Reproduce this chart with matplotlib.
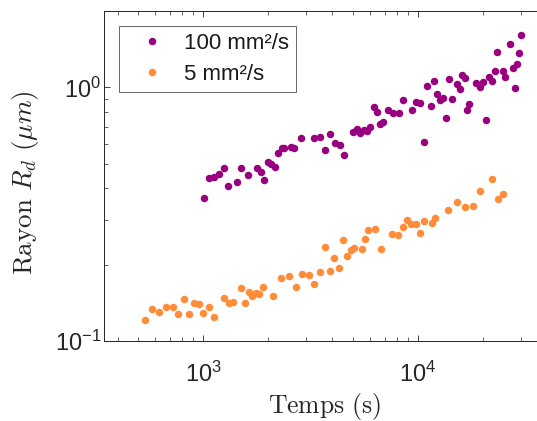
import matplotlib
matplotlib.use('Agg')
import matplotlib.pyplot as plt
import matplotlib.ticker as mticker

plt.rcParams['font.family'] = ['Liberation Sans', 'DejaVu Sans']

# temps (s) et rayon (um), 100 mm2/s
t_100 = [1010, 1070, 1130, 1190, 1250, 1310, 1435, 1500, 1625, 1780,
         1860, 1930, 2005, 2080, 2160, 2240, 2320, 2390, 2560, 2650,
         2860, 3265, 3485, 3700, 3905, 4110, 4320, 4530, 4960, 5190,
         5390, 5600, 5810, 6010, 6240, 6450, 6660, 6850, 7280, 7690,
         8130, 8540, 9350, 9770, 10200, 10630, 11050, 11460, 11870, 12300,
         12700, 13110, 13540, 13980, 14390, 15180, 15630, 16020, 16490, 16900,
         17320, 18610, 19360, 20060, 20650, 21390, 22090, 22760, 23380, 24770,
         25470, 26790, 27570, 28180, 28880, 29570, 30200]
r_100 = [0.365, 0.439, 0.445, 0.454, 0.481, 0.407, 0.423, 0.482, 0.451, 0.482,
         0.465, 0.433, 0.510, 0.498, 0.485, 0.551, 0.577, 0.578, 0.580, 0.578,
         0.631, 0.631, 0.637, 0.566, 0.657, 0.604, 0.591, 0.541, 0.664, 0.685,
         0.658, 0.677, 0.675, 0.700, 0.839, 0.800, 0.716, 0.733, 0.816, 0.791,
         0.796, 0.892, 0.811, 0.878, 0.869, 0.607, 1.011, 0.841, 1.063, 0.938,
         0.890, 0.909, 0.757, 1.082, 0.902, 1.030, 0.981, 1.115, 1.089, 0.814,
         0.862, 1.041, 1.000, 1.051, 0.747, 1.102, 1.055, 1.157, 1.375, 1.161,
         1.097, 1.481, 1.187, 0.997, 1.238, 1.367, 1.612]

# 5 mm2/s
t_5 = [535, 581, 626, 674, 721, 768, 814, 861, 908, 956,
       1003, 1066, 1129, 1252, 1315, 1379, 1505, 1568, 1628, 1694,
       1755, 1817, 1908, 2110, 2301, 2501, 2696, 2897, 3095, 3287,
       3494, 3686, 3885, 4075, 4278, 4465, 4675, 4864, 5055, 5461,
       5657, 5853, 6310, 6744, 7594, 8047, 8487, 8917, 9329, 9788,
       10240, 10680, 11580, 12000, 13790, 15150, 16540, 17950, 19360, 22050,
       23490, 24850]
r_5 = [0.1205, 0.1332, 0.1298, 0.1365, 0.1356, 0.1278, 0.1461, 0.1278, 0.1409, 0.1396,
       0.1290, 0.1356, 0.1249, 0.1472, 0.1413, 0.1429, 0.1612, 0.1410, 0.1564, 0.1502,
       0.1550, 0.1530, 0.1629, 0.1498, 0.1768, 0.1809, 0.1638, 0.1835, 0.1822, 0.1673,
       0.1867, 0.2344, 0.1893, 0.2121, 0.1942, 0.2512, 0.2172, 0.2285, 0.2333, 0.2314,
       0.2532, 0.2730, 0.2773, 0.2314, 0.2638, 0.2609, 0.2818, 0.3008, 0.2890, 0.2890,
       0.2665, 0.2981, 0.2927, 0.3053, 0.3281, 0.3538, 0.3381, 0.3421, 0.3921, 0.4372,
       0.3635, 0.3798]

labels = ['100 mm²/s', '5 mm²/s']
colors = ['#990080', '#FF8C38']

fig = plt.figure(figsize=(5.37, 4.21), dpi=100)
ax = fig.add_axes([0.1937, 0.19, 0.8063, 0.7838])

ax.plot(t_100, r_100, 'o', color=colors[0], ms=5.4, mec='none', label=labels[0])
ax.plot(t_5, r_5, 'o', color=colors[1], ms=5.4, mec='none', label=labels[1])

ax.set_xscale('log')
ax.set_yscale('log')
ax.set_xlim(346, 35800)
ax.set_ylim(0.1, 2.0)

ax.xaxis.set_minor_formatter(mticker.NullFormatter())
ax.yaxis.set_minor_formatter(mticker.NullFormatter())
ax.tick_params(which='both', direction='in', top=True, right=False,
               color='#262626', labelsize=17, labelcolor='#262626')
ax.tick_params(axis='x', which='both', pad=15)
ax.tick_params(axis='y', which='both', pad=2)
ax.tick_params(which='major', length=4.5, width=0.6)
ax.tick_params(which='minor', length=3, width=0.5)
for s in ['left', 'bottom', 'top']:
    ax.spines[s].set_color('#262626')
    ax.spines[s].set_linewidth(0.7)
ax.spines['right'].set_visible(False)

ax.set_xlabel(r'$\mathrm{Temps\ (s)}$', fontsize=18.5, math_fontfamily='cm',
              color='#262626', va='baseline')
ax.xaxis.set_label_coords(0.508, -0.218)
ax.set_ylabel(r'$\mathrm{Rayon}\ R_d\ (\mu m)$', fontsize=19.5, math_fontfamily='cm',
              color='#262626')
ax.yaxis.set_label_coords(-0.1455, 0.48)

leg = ax.legend(loc='upper left', fontsize=16, frameon=True, fancybox=False,
                edgecolor='#262626', borderaxespad=0.68, borderpad=0.32,
                handlelength=2.28, handletextpad=0.3, labelspacing=0.42,
                numpoints=1)
leg.get_frame().set_linewidth(0.6)
for txt in leg.get_texts():
    txt.set_color('#1a1a1a')

fig.savefig('out.png', dpi=100, facecolor='white')
plt.close()
